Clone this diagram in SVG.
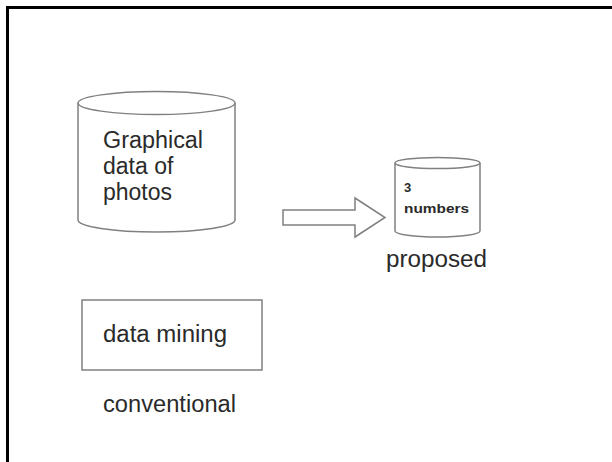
<svg xmlns="http://www.w3.org/2000/svg" width="612" height="462" viewBox="0 0 612 462">
<style>
.shape{fill:#ffffff;stroke:#808080;stroke-width:1.5}
.t{font-family:"Liberation Sans",Arial,sans-serif;fill:#2a2a2a}
.big{font-size:23px}
.small{font-size:13px;font-weight:bold}
</style>
<rect width="612" height="462" fill="#ffffff"/>
<path d="M7.5 470 V7.5 H620" fill="none" stroke="#000000" stroke-width="3"/>
<g id="photos-db">
<path class="shape" d="M78 103 V220 A78.5 12 0 0 0 235 220 V103"/>
<ellipse class="shape" cx="156.5" cy="103" rx="78.5" ry="11.5"/>
<text class="t big" x="103" y="148" textLength="100" lengthAdjust="spacingAndGlyphs">Graphical</text>
<text class="t big" x="103" y="174">data of</text>
<text class="t big" x="103" y="200">photos</text>
</g>
<g id="numbers-db">
<path class="shape" d="M395 163 V231 A42.5 6 0 0 0 480 231 V163"/>
<ellipse class="shape" cx="437.5" cy="163" rx="42.5" ry="5.5"/>
<text class="t small" x="404" y="192">3</text>
<text class="t small" x="404" y="213" textLength="65" lengthAdjust="spacingAndGlyphs">numbers</text>
<text class="t big" x="386" y="267" textLength="101" lengthAdjust="spacingAndGlyphs">proposed</text>
</g>
<g id="data-mining">
<rect class="shape" x="82" y="300" width="180" height="70"/>
<text class="t big" x="103" y="342" textLength="124" lengthAdjust="spacingAndGlyphs">data mining</text>
<text class="t big" x="103" y="412" textLength="133" lengthAdjust="spacingAndGlyphs">conventional</text>
</g>
<g id="connectors">
<path class="shape" d="M283 210 H355 V198 L385 217.5 L355 237 V225 H283 Z"/>
</g>
</svg>
